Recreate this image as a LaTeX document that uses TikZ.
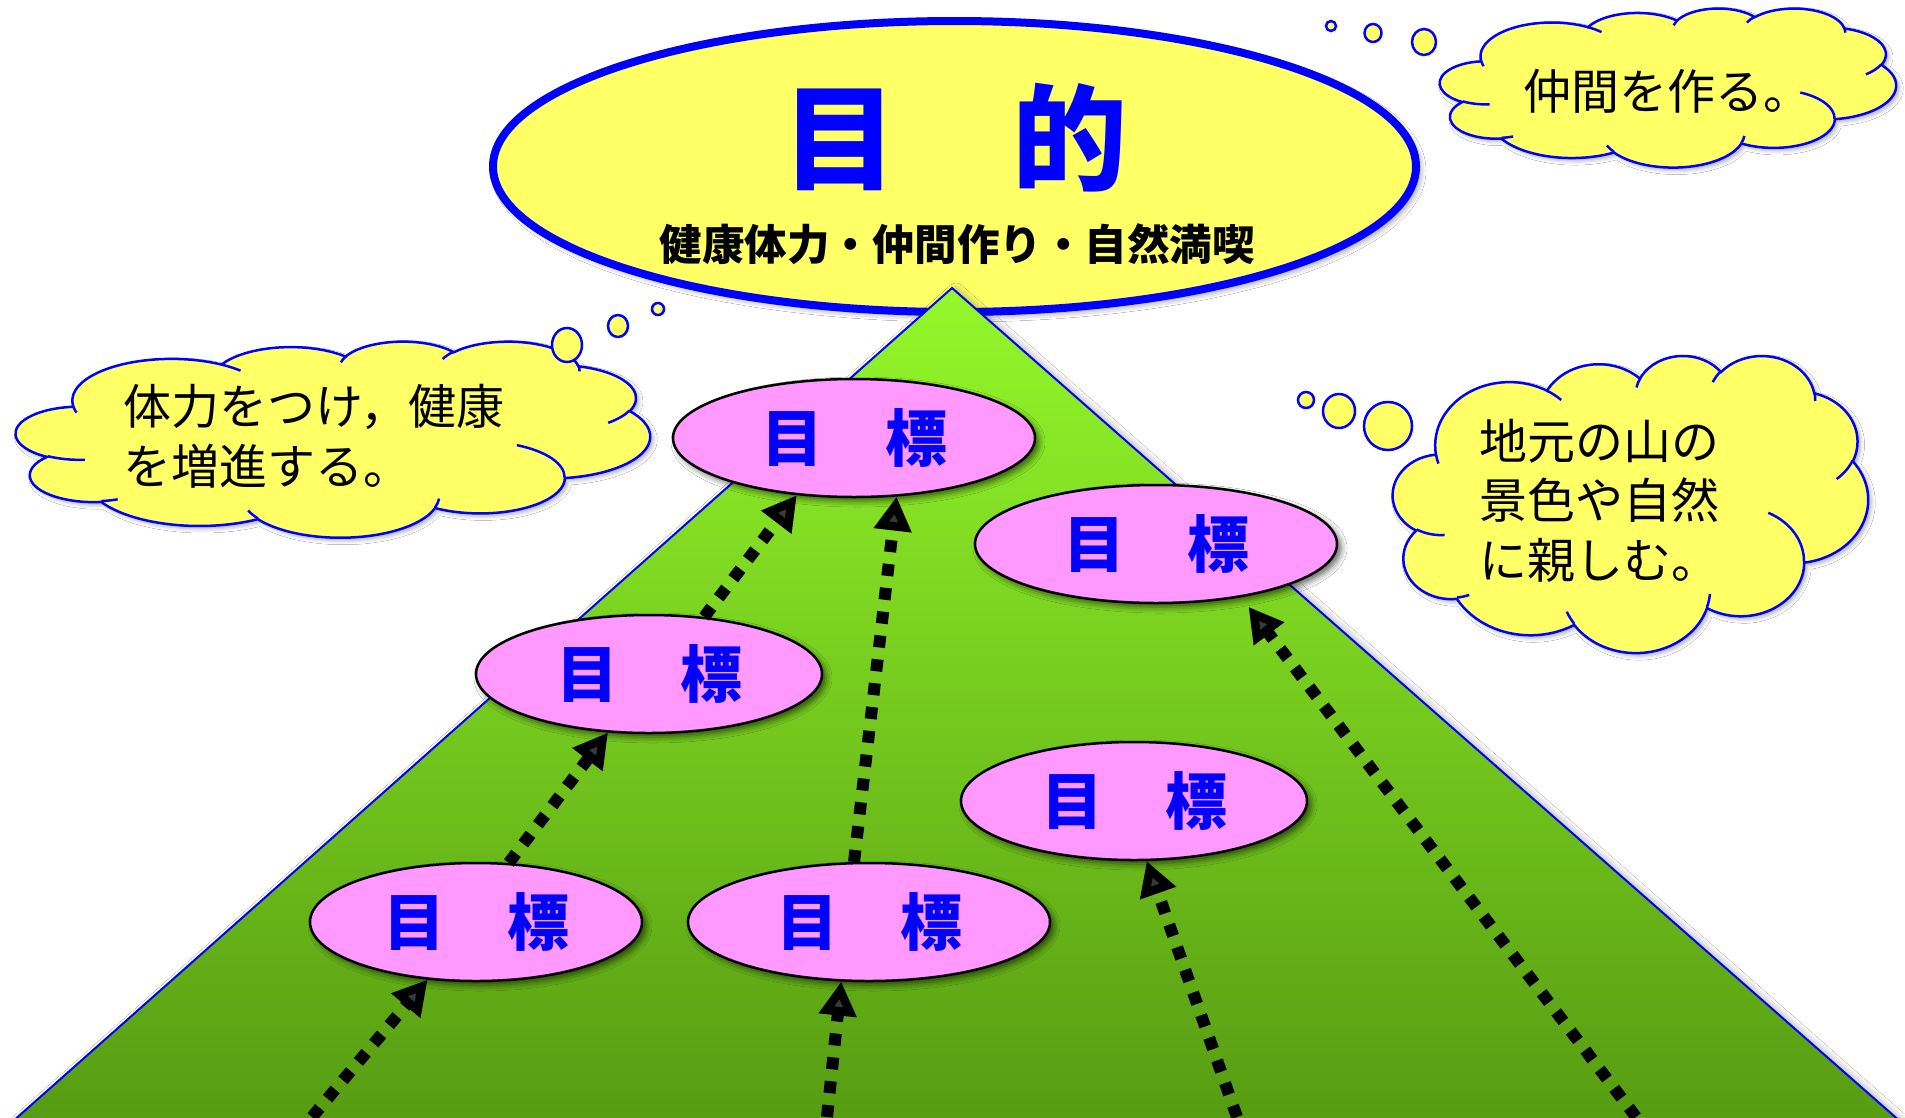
\documentclass[tikz,border=0pt]{standalone}
\usepackage{fontspec}
\newfontfamily\cjk{Noto Sans CJK JP}
\usetikzlibrary{shapes.geometric,arrows.meta,shadows.blur}
\definecolor{cloudyellow}{RGB}{255,255,102}
\definecolor{goalpink}{RGB}{255,153,255}
\definecolor{pureblue}{RGB}{0,0,255}
\definecolor{gtop}{RGB}{148,248,42}
\definecolor{gmid}{RGB}{128,222,32}
\definecolor{gbot}{RGB}{86,155,18}
% PowerPoint-style arc: radii, visual start angle, sweep
\newcommand\carc[4]{arc[x radius=#1,y radius=#2,start angle={(#3)+mod(atan2((#1)*sin(#3),(#2)*cos(#3))-(#3)+540,360)-180},end angle={(#3+#4)+mod(atan2((#1)*sin(#3+#4),(#2)*cos(#3+#4))-(#3+#4)+540,360)-180}]}
\newcommand\cloudshape{(9.028,33.264) \carc{15.6319}{21.2731}{-190.4875}{123.7805} \carc{12.3449}{16.8218}{-144.1024}{89.9452} \carc{10.1042}{13.7616}{-145.8079}{99.7230} \carc{11.2431}{15.2662}{-130.9861}{117.2417} \carc{12.3449}{16.8356}{-78.7089}{109.0269} \carc{15.6829}{21.3426}{-46.2673}{130.2690} \carc{13.3912}{18.2106}{0.6250}{114.0333} \carc{15.6296}{21.3310}{22.4516}{115.1726} \carc{17.8704}{24.4051}{66.2426}{75.7110} \carc{10.0926}{13.6991}{-274.9421}{146.7356} \carc{10.0579}{13.7616}{-246.8285}{152.5189} -- cycle}
\newcommand\cloudinner{(10.863,60.595) \carc{10.0579}{13.7616}{86.7420}{26.4295}
 (16.037,80.785) \carc{10.0926}{13.6991}{73.6105}{11.4475}
 (38.144,90.486) \carc{15.6296}{21.3310}{137.6242}{14.0811}
 (66.729,80.442) \carc{15.6296}{21.3310}{6.4533}{15.9984}
 (79.002,53.134) \carc{13.3912}{18.2106}{-70.2924}{70.9174}
 (96.755,35.542) \carc{12.3449}{16.8356}{30.3180}{27.7515}
 (88.713,12.560) \carc{11.2431}{15.2662}{-13.7443}{14.8589}
 (67.310,9.148) \carc{11.2431}{15.2662}{-149.1815}{18.1954}
 (51.252,10.926) \carc{10.1042}{13.7616}{-163.4943}{17.6864}
 (32.407,12.019) \carc{15.6319}{21.2731}{-66.7070}{12.3194}
 (9.553,36.549) \carc{15.6319}{21.2731}{157.6544}{11.8582}}
\begin{document}
\begin{tikzpicture}[x=1pt,y=-1pt,
  cloudbody/.style={fill=cloudyellow,draw=pureblue,line width=2.5pt,blur shadow={shadow xshift=3pt,shadow yshift=-3pt,shadow blur radius=4pt,shadow opacity=30}},
  cloudedge/.style={draw=pureblue,line width=2.5pt},
  bubble/.style={fill=cloudyellow,draw=pureblue,line width=2.5pt},
  goal/.style={ellipse,fill=goalpink,draw=black,line width=2.5pt,minimum height=118pt,inner sep=0pt,text=pureblue,font=\cjk\bfseries\fontsize{62pt}{70pt}\selectfont,blur shadow={shadow xshift=4pt,shadow yshift=-4pt,shadow blur radius=6pt,shadow opacity=60}},
  flow/.style={line width=12pt,dash pattern=on 12pt off 12pt,-{Triangle[length=34pt,width=36pt]}},
  cloudtext/.style={font=\cjk\fontsize{48pt}{60pt}\selectfont,align=left,inner sep=0pt,text=black}
]
\fill[white] (0,0) rectangle (1905,1117);
\clip (0,0) rectangle (1905,1117);

% clouds
\begin{scope}[shift={(1440,8)},x=4.56pt,y=-1.59pt]
  \path[cloudbody] \cloudshape;
  \draw[cloudedge] \cloudinner;
\end{scope}
\begin{scope}[shift={(16,341)},x=6.34pt,y=-1.96pt]
  \path[cloudbody] \cloudshape;
  \draw[cloudedge] \cloudinner;
\end{scope}
\begin{scope}[shift={(1393,355)},x=4.75pt,y=-2.97pt]
  \path[cloudbody] \cloudshape;
  \draw[cloudedge] \cloudinner;
\end{scope}

% thought bubbles
\draw[bubble] (1331,26) ellipse [x radius=5, y radius=5];
\draw[bubble] (1373,33) ellipse [x radius=8.5, y radius=9];
\draw[bubble] (1424,42) ellipse [x radius=12, y radius=13];
\draw[bubble] (658,309) ellipse [x radius=6, y radius=6];
\draw[bubble] (618,326) ellipse [x radius=10, y radius=11];
\draw[bubble] (567,345) ellipse [x radius=15, y radius=17];
\draw[bubble] (1306,400) ellipse [x radius=8, y radius=8];
\draw[bubble] (1339,411) ellipse [x radius=16, y radius=17];
\draw[bubble] (1388,426) ellipse [x radius=24, y radius=24];

\node[cloudtext,anchor=west] (t1) at (1523,91) {仲間を作る。};
\node[cloudtext,anchor=west] (t2) at (123,436) {体力をつけ，健康\\を増進する。};
\node[cloudtext,anchor=west,font=\cjk\fontsize{48pt}{59.5pt}\selectfont] (t3) at (1479,500.5) {地元の山の\\景色や自然\\に親しむ。};

% purpose ellipse
\node[ellipse,minimum width=923pt,minimum height=291pt,inner sep=0pt,fill=cloudyellow,draw=pureblue,line width=8pt,blur shadow={shadow xshift=4pt,shadow yshift=-4pt,shadow blur radius=6pt,shadow opacity=45}] (goal) at (954.5,166.5) {};
\node[font=\cjk\bfseries\fontsize{115pt}{130pt}\selectfont,text=pureblue,inner sep=0pt] (purpose) at (955,138) {目　的};
\node[font=\cjk\bfseries\fontsize{42.5pt}{50pt}\selectfont,text=black,inner sep=0pt] (aims) at (957,244) {健康体力・仲間作り・自然満喫};

% mountain
\path[draw=pureblue,line width=2pt,top color=gtop,middle color=gmid,bottom color=gbot,blur shadow={shadow xshift=4pt,shadow yshift=-3pt,shadow blur radius=8pt,shadow opacity=45}] (952,288) -- (1910,1130) -- (3,1130) -- cycle;

% goals
\node[goal,minimum width=362pt] (E1) at (854,438) {目　標};
\node[goal,minimum width=362pt] (E2) at (1156,544) {目　標};
\node[goal,minimum width=346pt] (E3) at (649,674) {目　標};
\node[goal,minimum width=346pt] (E4) at (1134,801) {目　標};
\node[goal,minimum width=332pt] (E5) at (476,922) {目　標};
\node[goal,minimum width=362pt] (E6) at (869,922) {目　標};

% arrows
\coordinate (s1) at (312,1117);
\coordinate (s5) at (827,1117);
\coordinate (s6) at (1237,1117);
\coordinate (s7) at (1636,1117);
\draw[flow] (s1) -- (E5.-130.3);
\draw[flow] (E5.61.3) -- (E3.-125);
\draw[flow] (E3.46) -- (E1.-135.5);
\draw[flow] (E6.104) -- (E1.-54.6);
\draw[flow] (s5) -- (E6.-115.4);
\draw[flow] (s6) -- (E4.-78.9);
\draw[flow,shorten >=12pt] (s7) -- (E2.-32.3);
\end{tikzpicture}
\end{document}
